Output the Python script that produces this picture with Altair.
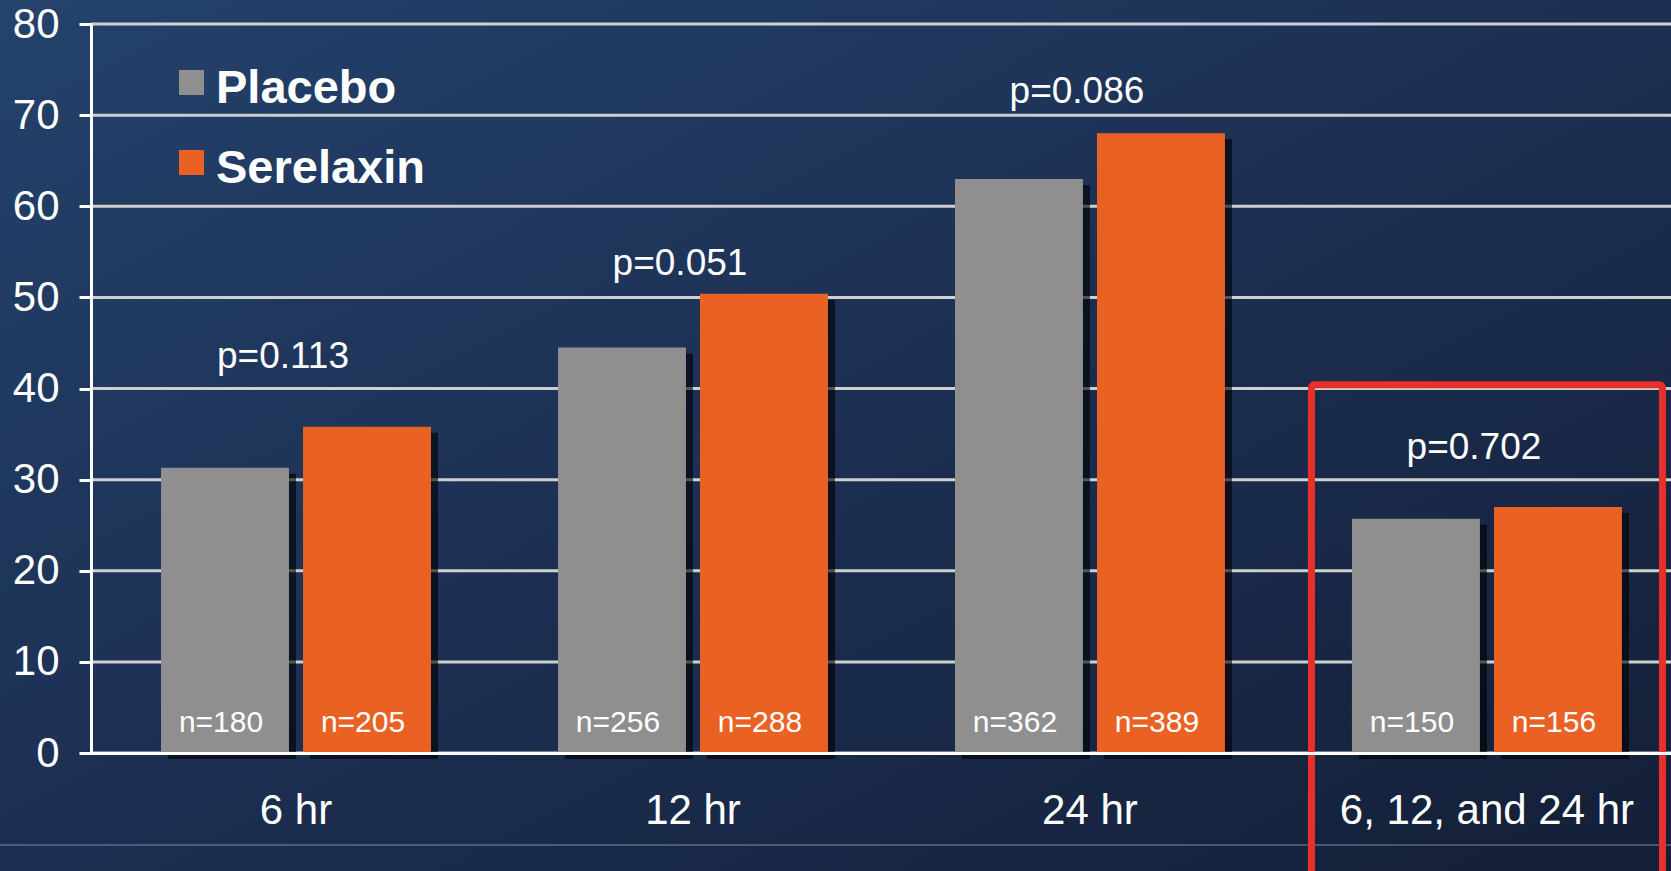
import altair as alt
import pandas as pd

# ---- data ----
groups = ["6 hr", "12 hr", "24 hr", "6, 12, and 24 hr"]
series = ["Placebo", "Serelaxin"]
placebo = [31.3, 44.5, 63.0, 25.7]
serelaxin = [35.8, 50.4, 68.0, 27.0]
placebo_n = [180, 256, 362, 150]
serelaxin_n = [205, 288, 389, 156]
p_values = ["p=0.113", "p=0.051", "p=0.086", "p=0.702"]
p_label_y = [42.2, 52.5, 71.3, 32.3]
y_ticks = [0, 10, 20, 30, 40, 50, 60, 70, 80]
highlight_group = ["6, 12, and 24 hr"]
highlight_top = [40.4]
highlight_bottom = [-15]

# ---- styling ----
W, H = 1580, 729
PAD = {"left": 91, "top": 24, "right": 0, "bottom": 118}
FONT = "Liberation Sans"
GRAY = "#8f8f8f"
ORANGE = "#e96224"
RED = "#e8302a"
GROUP_BAND = 270  # pixel width of one group band (step 397 * 0.68)

bars_df = pd.DataFrame({
    "group": groups * 2,
    "series": ["Placebo"] * 4 + ["Serelaxin"] * 4,
    "value": placebo + serelaxin,
    "n": [f"n={v}" for v in placebo_n + serelaxin_n],
    "zero": [0] * 8,
})
p_df = pd.DataFrame({"group": groups, "label": p_values, "py": p_label_y})
grid_df = pd.DataFrame({"gy": y_ticks})
hl_df = pd.DataFrame({"group": highlight_group, "top": highlight_top, "bottom": highlight_bottom})
one_df = pd.DataFrame({"k": [0]})

x_scale = alt.Scale(domain=groups, paddingInner=0.32, paddingOuter=0.15, align=0.588)
y_scale = alt.Scale(domain=[0, 80], nice=False)


def off_scale():
    return alt.Scale(type="band", domain=series, paddingInner=0.099, paddingOuter=0)


shadow_off_scale = alt.Scale(type="band", domain=series, paddingInner=0.099, paddingOuter=0,
                             range=[7, GROUP_BAND + 7])

x_axis = alt.Axis(title=None, labelAngle=0, ticks=False, tickSize=0,
                  domainColor="white", domainWidth=3,
                  labelColor="white", labelFontSize=42, labelFont=FONT,
                  labelBaseline="alphabetic", labelPadding=70, labelLimit=0, zindex=1)
y_axis = alt.Axis(title=None, values=y_ticks, grid=False,
                  domainColor="white", domainWidth=3,
                  tickColor="white", tickWidth=3, tickSize=12,
                  labelColor="white", labelFontSize=42, labelFont=FONT,
                  labelPadding=20, zindex=1)


def X():
    return alt.X("group:N", scale=x_scale, axis=x_axis, sort=groups)


def XO():
    return alt.XOffset("series:N", scale=off_scale(), sort=series)


bg = alt.Chart(one_df).mark_rect(
    color=alt.Gradient(
        gradient="linear",
        stops=[
            alt.GradientStop(color="#24426c", offset=0),
            alt.GradientStop(color="#1c2f52", offset=0.5),
            alt.GradientStop(color="#141f37", offset=1),
        ],
        x1=0, y1=0, x2=1, y2=1,
    )
).encode(x=alt.value(-PAD["left"]), x2=alt.value(W),
         y=alt.value(-PAD["top"]), y2=alt.value(H + PAD["bottom"]))

grid = alt.Chart(grid_df).mark_rule(color="#cfcfcf", strokeWidth=3).encode(
    y=alt.Y("gy:Q", scale=y_scale, axis=y_axis),
    x=alt.value(0), x2=alt.value(W),
)

bottom_line = alt.Chart(one_df).mark_rule(color="#8d97ab", strokeWidth=1.5, opacity=0.6).encode(
    y=alt.value(821), x=alt.value(-PAD["left"]), x2=alt.value(W)
)

shadow = alt.Chart(bars_df).mark_bar(color="black", opacity=0.6, yOffset=6).encode(
    x=X(),
    xOffset=alt.XOffset("series:N", scale=shadow_off_scale, sort=series),
    y=alt.Y("value:Q", scale=y_scale, axis=y_axis),
)

bars = alt.Chart(bars_df).mark_bar().encode(
    x=X(), xOffset=XO(),
    y=alt.Y("value:Q", scale=y_scale, axis=y_axis),
    color=alt.Color("series:N", scale=alt.Scale(domain=series, range=[GRAY, ORANGE]),
                    legend=alt.Legend(title=None, orient="none", legendX=77, legendY=41,
                                      direction="vertical",
                                      symbolType="M-1,-1.48H1V0.52H-1Z", symbolSize=625,
                                      symbolStrokeWidth=0, symbolOpacity=1,
                                      labelFontSize=47, labelFontWeight="bold",
                                      labelFont=FONT, labelColor="white", labelLimit=0,
                                      rowPadding=32, padding=0, labelOffset=1)),
)

n_text = alt.Chart(bars_df).mark_text(color="white", fontSize=30, font=FONT,
                                      baseline="alphabetic", dy=-21, dx=-4).encode(
    x=X(), xOffset=XO(),
    y=alt.Y("zero:Q", scale=y_scale, axis=y_axis),
    text="n:N",
)

p_text = alt.Chart(p_df).mark_text(color="white", fontSize=37, font=FONT,
                                   baseline="alphabetic", dx=-13).encode(
    x=X(),
    y=alt.Y("py:Q", scale=y_scale, axis=y_axis),
    text="label:N",
)

red_box = alt.Chart(hl_df).mark_bar(filled=False, color=RED, strokeWidth=7,
                                    width=351, cornerRadius=3).encode(
    x=X(),
    y=alt.Y("top:Q", scale=y_scale, axis=y_axis),
    y2=alt.Y2("bottom:Q"),
)

chart = alt.layer(bg, grid, bottom_line, shadow, bars, n_text, p_text, red_box).resolve_scale(
    xOffset="independent"
).properties(
    width=W, height=H,
    padding=PAD,
    autosize=alt.AutoSizeParams(type="none"),
    background="#1b2b4b",
).configure_view(strokeWidth=0)

chart.save("out.html", embed_options={"renderer": "svg", "actions": False})
